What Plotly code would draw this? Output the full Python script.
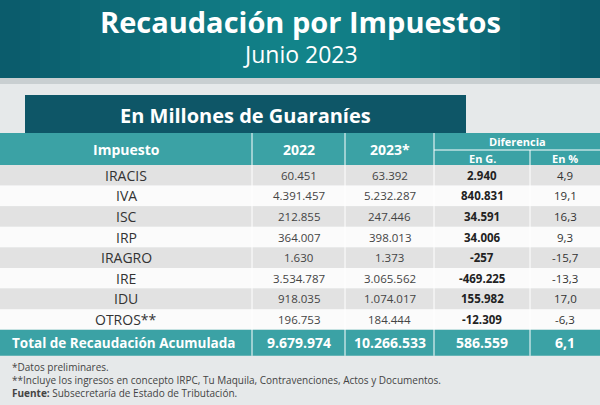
import plotly.graph_objects as go

impuestos = ["IRACIS", "IVA", "ISC", "IRP", "IRAGRO", "IRE", "IDU", "OTROS**"]
v2022 = ["60.451", "4.391.457", "212.855", "364.007", "1.630", "3.534.787", "918.035", "196.753"]
v2023 = ["63.392", "5.232.287", "247.446", "398.013", "1.373", "3.065.562", "1.074.017", "184.444"]
dif_g = ["2.940", "840.831", "34.591", "34.006", "-257", "-469.225", "155.982", "-12.309"]
dif_pct = ["4,9", "19,1", "16,3", "9,3", "-15,7", "-13,3", "17,0", "-6,3"]
total = ["Total de Recaudación Acumulada", "9.679.974", "10.266.533", "586.559", "6,1"]
notas = ["*Datos preliminares.",
         "**Incluye los ingresos en concepto IRPC, Tu Maquila, Contravenciones, Actos y Documentos.",
         "<b>Fuente:</b> Subsecretaría de Estado de Tributación."]

FONT = "Open Sans"
TEAL = "#3ba2a5"
DARK = "#0e5667"
col_edges = [0, 252, 345, 434, 530, 600]
row_top, row_h = 165, 20.6

fig = go.Figure()
shapes, ann = [], []

def rect(x0, y0, x1, y1, color, **kw):
    shapes.append(dict(type="rect", xref="x", yref="y", x0=x0, y0=y0, x1=x1, y1=y1,
                       fillcolor=color, line=dict(width=0), layer="below", **kw))

def text(x, y, s, size=12, color="#333", bold=False, xanchor="center", family=FONT):
    ann.append(dict(x=x, y=y, xref="x", yref="y", text=f"<b>{s}</b>" if bold else s,
                    showarrow=False, xanchor=xanchor, yanchor="middle",
                    font=dict(family=family, size=size, color=color)))

# background
rect(0, 0, 600, 405, "#e6e9ea")
rect(0, 78, 600, 84, "#c9cfd1")
# header banner gradient imitation
for i in range(30):
    t = abs(i - 14.5) / 14.5
    r = int(0x13 + (0x0b - 0x13) * t); g = int(0x86 + (0x5c - 0x86) * t); b = int(0x8c + (0x6c - 0x8c) * t)
    rect(i * 20, 0, i * 20 + 20.5, 78, f"rgb({r},{g},{b})")
text(300, 21, "Recaudación por Impuestos", 29, "white", True)
text(300, 54, "Junio 2023", 23, "white")

# subtitle box
rect(25, 95, 466, 134, DARK)
text(245, 115, "En Millones de Guaraníes", 20, "white", True)

# header row
rect(0, 133, 600, 165, TEAL)
centers = [(col_edges[i] + col_edges[i + 1]) / 2 for i in range(5)]
text(centers[0], 149, "Impuesto", 14, "white", True)
text(centers[1], 149, "2022", 14, "white", True)
text(centers[2], 149, "2023*", 14, "white", True)
text((434 + 600) / 2, 141, "Diferencia", 11, "white", True)
text(centers[3], 158, "En G.", 11, "white", True)
text(centers[4], 158, "En %", 11, "white", True)
shapes.append(dict(type="line", xref="x", yref="y", x0=434, x1=600, y0=150, y1=150,
                   line=dict(color="white", width=1)))

# data rows
for i, name in enumerate(impuestos):
    y0 = row_top + i * row_h
    rect(0, y0, 600, y0 + row_h, "#e2e2e2" if i % 2 == 0 else "#fbfbfb")
    yc = y0 + row_h / 2
    text(centers[0], yc, name, 14, "#333")
    text(centers[1], yc, v2022[i], 11.5, "#444")
    text(centers[2], yc, v2023[i], 11.5, "#444")
    text(centers[3], yc, dif_g[i], 11.5, "#222", True)
    text(centers[4], yc, dif_pct[i], 11.5, "#333")

# total row
ty0 = row_top + len(impuestos) * row_h
rect(0, ty0, 600, ty0 + 26, TEAL)
text(10, ty0 + 13, total[0], 13.5, "white", True, xanchor="left")
for j in range(1, 5):
    text(centers[j], ty0 + 13, total[j], 14, "white", True)

# column separators
for x in col_edges[1:-1]:
    shapes.append(dict(type="line", xref="x", yref="y", x0=x, x1=x,
                       y0=150 if x == 530 else 133, y1=ty0 + 26,
                       line=dict(color="white", width=1)))

# footnotes
for k, n in enumerate(notas):
    text(10, 367 + k * 13, n, 10, "#444", xanchor="left")

fig.update_layout(
    width=600, height=405, margin=dict(l=0, r=0, t=0, b=0),
    paper_bgcolor="#e6e9ea", plot_bgcolor="#e6e9ea",
    xaxis=dict(range=[0, 600], visible=False, fixedrange=True),
    yaxis=dict(range=[405, 0], visible=False, fixedrange=True),
    shapes=shapes, annotations=ann, showlegend=False,
)
fig.write_html("out.html", config={"displayModeBar": False},
               post_script="document.body.style.margin='0';document.body.style.overflow='hidden';")
